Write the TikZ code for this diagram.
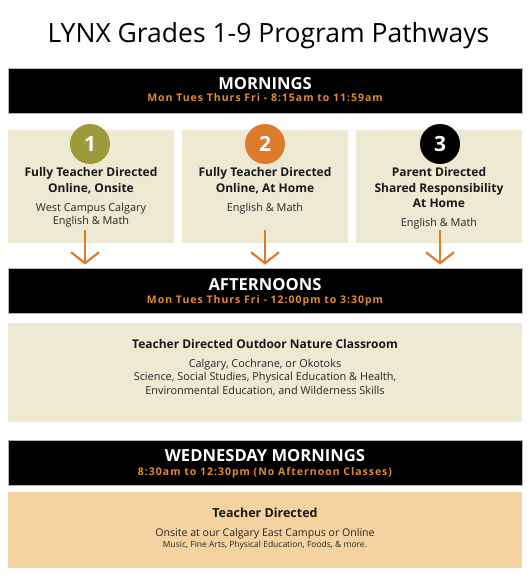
\documentclass[tikz,border=0pt]{standalone}
\usepackage{fontspec}
\setmainfont{Open Sans}
\usepackage{xcolor}
\usetikzlibrary{arrows.meta}

\definecolor{lynxolive}{HTML}{9B9B3B}
\definecolor{lynxorange}{HTML}{DB7B2B}
\definecolor{lynxamber}{HTML}{E08B30}
\definecolor{lynxbeige}{HTML}{EDE9D3}
\definecolor{lynxpeach}{HTML}{F5D3A1}

\begin{document}
\begin{tikzpicture}[x=1pt, y=-1pt,
    bar/.style={fill=black, draw=black!30, line width=0.8pt, minimum width=514pt, minimum height=45pt, inner sep=0pt},
    panel/.style={fill=lynxbeige, minimum width=166pt, minimum height=113pt, inner sep=0pt},
    num/.style={circle, minimum size=40pt, inner sep=0pt, text=white, font=\fontsize{21}{24}\selectfont\bfseries},
    head/.style={anchor=base, inner sep=0pt, text=black!90, font=\fontsize{12}{14}\selectfont\bfseries},
    body/.style={anchor=base, inner sep=0pt, text=black!85, font=\fontsize{10.9}{12}\selectfont},
    bartitle/.style={anchor=base, inner sep=0pt, text=white, font=\fontsize{16.6}{18}\selectfont\bfseries},
    barsub/.style={anchor=base, inner sep=0pt, text=lynxamber, font=\fontsize{10.5}{11}\selectfont\bfseries\addfontfeatures{LetterSpace=9.5}},
    arr/.style={draw=lynxorange, line width=2.2pt, -{Straight Barb[length=11pt, width=28pt]}}
  ]
  \useasboundingbox (0,0) rectangle (530,575);

  % Title
  \node[anchor=base, inner sep=0pt, font=\fontsize{26.5}{30}\selectfont] (title) at (268.5,43) {LYNX Grades 1-9 Program Pathways};

  % Mornings
  \node[bar] (mor) at (265,90.5) {};
  \node[bartitle] (morT) at (265,90) {MORNINGS};
  \node[barsub] (morS) at (265,102) {Mon Tues Thurs Fri - 8:15am to 11:59am};

  % Pathway 1
  \node[panel] (p1) at (91,186.5) {};
  \node[num, fill=lynxolive] (n1) at (90,144) {1};
  \node[head] (p1a) at (91,176.7) {Fully Teacher Directed};
  \node[head] (p1b) at (91,192.3) {Online, Onsite};
  \node[body] (p1c) at (91,211) {West Campus Calgary};
  \node[body] (p1d) at (91,224) {English \& Math};

  % Pathway 2
  \node[panel] (p2) at (265,186.5) {};
  \node[num, fill=lynxorange] (n2) at (265,144) {2};
  \node[head] (p2a) at (265,176.7) {Fully Teacher Directed};
  \node[head] (p2b) at (265,192.3) {Online, At Home};
  \node[body] (p2c) at (265,211) {English \& Math};

  % Pathway 3
  \node[panel] (p3) at (439,186.5) {};
  \node[num, fill=black] (n3) at (440,144) {3};
  \node[head] (p3a) at (439,176.7) {Parent Directed};
  \node[head] (p3b) at (439,192.3) {Shared Responsibility};
  \node[head] (p3c) at (439,207.3) {At Home};
  \node[body] (p3d) at (439,226.7) {English \& Math};

  % Afternoons
  \node[bar] (aft) at (265,290.5) {};
  \node[bartitle] (aftT) at (265,290) {AFTERNOONS};
  \node[barsub] (aftS) at (265,303.3) {Mon Tues Thurs Fri - 12:00pm to 3:30pm};

  % Arrows
  \coordinate (a1) at (85,230);
  \coordinate (a2) at (265,230);
  \coordinate (a3) at (440,230);
  \foreach \a in {a1,a2,a3}
    \draw[arr, shorten >=3pt] (\a) -- (\a |- aft.north);

  % Outdoor classroom
  \node[panel, minimum width=514pt, minimum height=99pt] (out) at (265,372.5) {};
  \node[head] (outa) at (265,348.3) {Teacher Directed Outdoor Nature Classroom};
  \node[body] (outb) at (265,367.7) {Calgary, Cochrane, or Okotoks};
  \node[body] (outc) at (265,380.7) {Science, Social Studies, Physical Education \& Health,};
  \node[body] (outd) at (265,394) {Environmental Education, and Wilderness Skills};

  % Wednesday mornings
  \node[bar] (wed) at (265,462.5) {};
  \node[bartitle] (wedT) at (265,461.7) {WEDNESDAY MORNINGS};
  \node[barsub] (wedS) at (265,475) {8:30am to 12:30pm (No Afternoon Classes)};

  \node[panel, fill=lynxpeach, minimum width=514pt, minimum height=76pt] (wk) at (265,530) {};
  \node[head, font=\fontsize{12.5}{15}\selectfont\bfseries] (wka) at (265,517.7) {Teacher Directed};
  \node[body, font=\fontsize{10.6}{12}\selectfont] (wkb) at (265,536) {Onsite at our Calgary East Campus or Online};
  \node[body, font=\fontsize{8.5}{9}\selectfont] (wkc) at (265,547.3) {Music, Fine Arts, Physical Education, Foods, \& more.};
\end{tikzpicture}
\end{document}
